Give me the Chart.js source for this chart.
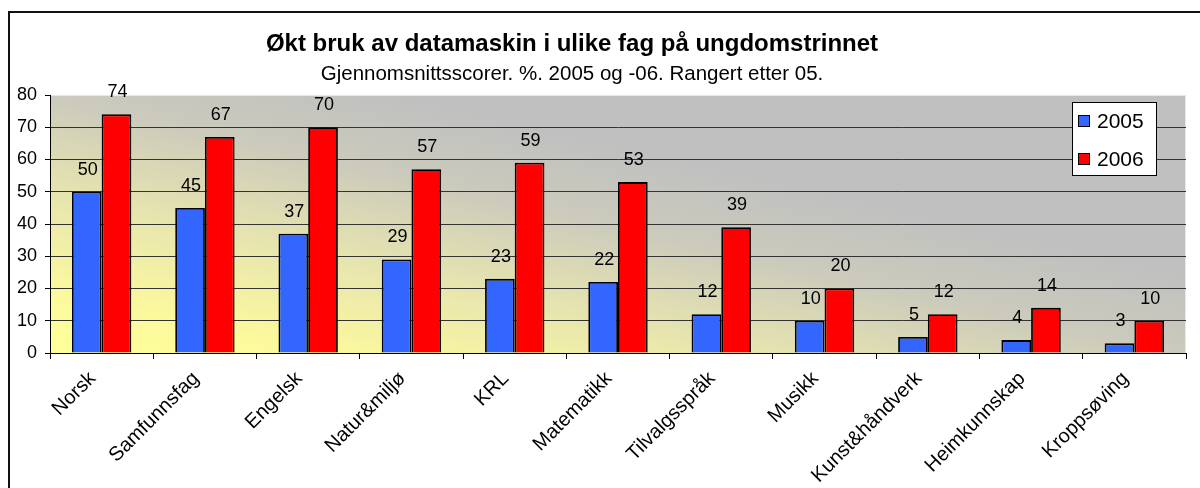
<!DOCTYPE html>
<html lang="no">
  <head>
    <meta charset="UTF-8" />
    <title>Økt bruk av datamaskin i ulike fag</title>
    <script src="https://cdn.jsdelivr.net/npm/chart.js@4.4.1/dist/chart.umd.min.js"></script>
    <style>
      html, body { margin: 0; padding: 0; width: 1200px; height: 488px; overflow: hidden; background: #fff; }
      #frame { position: absolute; left: 8px; top: 11px; width: 1300px; height: 600px; border: 2px solid #111; }
      #wrap { position: absolute; left: 0; top: 0; width: 1200px; height: 488px; }
    </style>
  </head>
  <body>
    <div id="frame"></div>
    <div id="wrap"><canvas id="chart"></canvas></div>

    <script>
      // data
      const fag = ["Norsk", "Samfunnsfag", "Engelsk", "Natur&miljø", "KRL", "Matematikk",
        "Tilvalgsspråk", "Musikk", "Kunst&håndverk", "Heimkunnskap", "Kroppsøving"];
      const aar2005 = [50, 45, 37, 29, 23, 22, 12, 10, 5, 4, 3];
      const aar2006 = [74, 67, 70, 57, 59, 53, 39, 20, 12, 14, 10];
      const seriesNames = ["2005", "2006"];
      const yTicks = [0, 10, 20, 30, 40, 50, 60, 70, 80];

      const title = "Økt bruk av datamaskin i ulike fag på ungdomstrinnet";
      const subtitle = "Gjennomsnittsscorer. %. 2005 og -06. Rangert etter 05.";

      const FONT = '"Liberation Sans", Arial, sans-serif';
      const BLUE = "#3366ff";
      const RED = "#ff0000";

      // yellow -> grey diagonal fill behind the bars
      const plotBackground = {
        id: "plotBackground",
        beforeDraw(chart) {
          const { ctx, chartArea: a } = chart;
          const w = a.right - a.left, h = a.bottom - a.top;
          const k = (2 * w * h) / (w * w + h * h);
          const g = ctx.createLinearGradient(a.left, a.bottom, a.left + h * k, a.bottom - w * k);
          g.addColorStop(0, "#ffff99");
          g.addColorStop(0.12, "#fbf99d");
          g.addColorStop(0.3, "#e8e6ae");
          g.addColorStop(0.5, "#cbcabc");
          g.addColorStop(0.65, "#c0c0c0");
          g.addColorStop(1, "#c0c0c0");
          ctx.save();
          ctx.fillStyle = g;
          ctx.fillRect(a.left, a.top, w, h);
          ctx.strokeStyle = "#f4f0a0";
          ctx.lineWidth = 1;
          ctx.beginPath();
          ctx.moveTo(a.left, a.top + 0.5);
          ctx.lineTo(a.right - 0.5, a.top + 0.5);
          ctx.lineTo(a.right - 0.5, a.bottom);
          ctx.stroke();
          ctx.restore();
        },
      };

      // title and subtitle
      const titles = {
        id: "titles",
        afterDraw(chart) {
          const ctx = chart.ctx;
          ctx.save();
          ctx.fillStyle = "#000";
          ctx.textAlign = "center";
          ctx.textBaseline = "middle";
          ctx.font = "bold 24px " + FONT;
          ctx.fillText(title, 572, 44);
          ctx.font = "20.5px " + FONT;
          ctx.fillText(subtitle, 572, 74);
          ctx.restore();
        },
      };

      // value above every bar
      const valueLabels = {
        id: "valueLabels",
        afterDatasetsDraw(chart) {
          const ctx = chart.ctx;
          ctx.save();
          ctx.fillStyle = "#000";
          ctx.font = "18px " + FONT;
          ctx.textAlign = "center";
          ctx.textBaseline = "middle";
          chart.data.datasets.forEach((ds, i) => {
            chart.getDatasetMeta(i).data.forEach((bar, j) => {
              ctx.fillText(String(ds.data[j]), bar.x + 1, bar.y - 22);
            });
          });
          ctx.restore();
        },
      };

      // legend box inside the plot, top right
      const boxLegend = {
        id: "boxLegend",
        afterDraw(chart) {
          const ctx = chart.ctx;
          const x = 1072, y = 102, w = 84, h = 73;
          ctx.save();
          ctx.fillStyle = "#fff";
          ctx.fillRect(x, y, w, h);
          ctx.strokeStyle = "#000";
          ctx.lineWidth = 1;
          ctx.strokeRect(x + 0.5, y + 0.5, w, h);
          ctx.font = "21px " + FONT;
          ctx.textBaseline = "middle";
          chart.data.datasets.forEach((ds, i) => {
            const cy = 121 + i * 38;
            ctx.fillStyle = ds.backgroundColor;
            ctx.fillRect(x + 6, cy - 6, 12, 12);
            ctx.strokeRect(x + 6.5, cy - 5.5, 11, 11);
            ctx.fillStyle = "#000";
            ctx.fillText(ds.label, x + 25, cy + 1);
          });
          ctx.restore();
        },
      };

      const ctx = document.getElementById("chart");
      const chart = new Chart(ctx, {
        type: "bar",
        data: {
          labels: fag,
          datasets: [
            { label: seriesNames[0], data: aar2005, backgroundColor: BLUE, borderColor: "#000", borderWidth: 1.8 },
            { label: seriesNames[1], data: aar2006, backgroundColor: RED, borderColor: "#000", borderWidth: 1.8 },
          ],
        },
        options: {
          responsive: true,
          maintainAspectRatio: false,
          animation: false,
          devicePixelRatio: 1,
          layout: { padding: { left: 0, right: 14, top: 95, bottom: 0 } },
          datasets: { bar: { categoryPercentage: 0.575, barPercentage: 1 } },
          plugins: { legend: { display: false }, title: { display: false }, tooltip: { enabled: false } },
          scales: {
            x: {
              grid: { offset: true, drawOnChartArea: false, drawTicks: true, tickLength: 6, color: "#000", tickColor: "#000" },
              border: { color: "#000", width: 1 },
              ticks: {
                autoSkip: false,
                minRotation: 45,
                maxRotation: 45,
                labelOffset: -9,
                padding: 8,
                color: "#000",
                font: { family: FONT, size: 20 },
              },
              afterFit(scale) { scale.height = 135; },
            },
            y: {
              min: yTicks[0],
              max: yTicks[yTicks.length - 1],
              afterBuildTicks(scale) { scale.ticks = yTicks.map((v) => ({ value: v })); },
              grid: {
                color: (c) => (c.tick && c.tick.value === 80 ? "rgba(0,0,0,0)" : "#333"),
                tickColor: "#000",
                tickLength: 5,
              },
              border: { color: "#000", width: 1 },
              ticks: { color: "#000", padding: 8, font: { family: FONT, size: 18 } },
              afterFit(scale) { scale.width = 50; },
            },
          },
        },
        plugins: [plotBackground, titles, valueLabels, boxLegend],
      });
    </script>
  </body>
</html>
